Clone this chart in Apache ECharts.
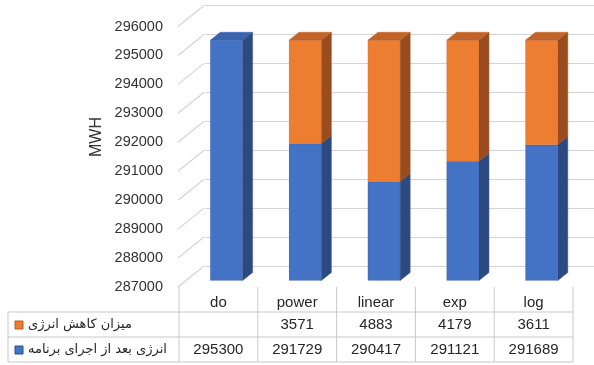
<!DOCTYPE html>
<html>
<head>
<meta charset="utf-8">
<script src="https://cdn.jsdelivr.net/npm/echarts@6/dist/echarts.min.js"></script>
<style>
  html, body { margin: 0; padding: 0; background: #fff; }
  #chart { width: 594px; height: 365px; }
</style>
</head>
<body>
<div id="chart"></div>
<script>
// Energy after the program vs. energy saved, per fitted model
const categories = ['do', 'power', 'linear', 'exp', 'log'];
const energyAfter = [295300, 291729, 290417, 291121, 291689];
const energySaved = [null, 3571, 4883, 4179, 3611];
const seriesNames = ['میزان کاهش انرژی', 'انرژی بعد از اجرای برنامه'];
const yTicks = [287000, 288000, 289000, 290000, 291000, 292000, 293000, 294000, 295000, 296000];
const yUnit = 'MWH';

const Y_MIN = yTicks[0];
const Y_MAX = yTicks[yTicks.length - 1];
const Y_STEP = yTicks[1] - yTicks[0];

// depth of the back wall and of the bars (pseudo-3D)
const WALL_DX = 26, WALL_DY = -21;
const BAR_OX = 8, BAR_OY = -6.5;
const BAR_DX = 10, BAR_DY = -8;

const FONT = 'Liberation Sans, Arial, sans-serif';
const TXT = '#262626';
const BORDER = '#c8c8c8';

const BLUE = { front: '#4472c4', side: '#2c4a82', top: '#3a62ad' };
const ORANGE = { front: '#ed7d31', side: '#9a4c1e', top: '#c0642a' };

// table rows (pixel rows under the plot)
const ROW_HEAD = 303, ROW_1 = 325, ROW_2 = 350;
const LINE_TOP = 287, LINE_1 = 312, LINE_2 = 337, LINE_3 = 362;
const TABLE_LEFT = 8;

const chart = echarts.init(document.getElementById('chart'), null, { renderer: 'canvas' });

function renderBars(params, api) {
  const i = api.value(0);
  const blue = api.value(1);
  const saved = api.value(2);
  const bw = api.size([1, 0])[0];
  const fw = bw * 0.41;
  const cx = api.coord([i, Y_MIN])[0] + BAR_OX;
  const x0 = cx - fw / 2, x1 = cx + fw / 2;
  const yOf = v => api.coord([i, v])[1] + BAR_OY;
  const segs = [[Y_MIN, blue, BLUE]];
  if (!isNaN(saved) && saved != null) segs.push([blue, blue + saved, ORANGE]);
  const children = [];
  segs.forEach((s, k) => {
    const yb = yOf(s[0]), yt = yOf(s[1]);
    const c = s[2];
    children.push({
      type: 'polygon',
      shape: { points: [[x1, yb], [x1 + BAR_DX, yb + BAR_DY], [x1 + BAR_DX, yt + BAR_DY], [x1, yt]] },
      style: { fill: c.side, stroke: c.side, lineWidth: 0.5 }
    });
    children.push({
      type: 'rect',
      shape: { x: x0, y: yt, width: fw, height: yb - yt },
      style: { fill: c.front, stroke: 'rgba(0,0,0,0.12)', lineWidth: 0.6 }
    });
    if (k === segs.length - 1) {
      children.push({
        type: 'polygon',
        shape: { points: [[x0, yt], [x1, yt], [x1 + BAR_DX, yt + BAR_DY], [x0 + BAR_DX, yt + BAR_DY]] },
        style: { fill: c.top, stroke: c.top, lineWidth: 0.5 }
      });
    }
  });
  return { type: 'group', children };
}

function renderSideWall(params, api) {
  const left = params.coordSys.x;
  const y = api.coord([0, api.value(1)])[1];
  return {
    type: 'line',
    shape: { x1: left - 1, y1: y, x2: left - 1 + WALL_DX, y2: y + WALL_DY },
    style: { stroke: '#d4d4d4', lineWidth: 1.2 }
  };
}

function renderTable(params, api) {
  const i = api.value(0);
  const bw = api.size([1, 0])[0];
  const cx = api.coord([i, Y_MIN])[0];
  const l = cx - bw / 2, r = cx + bw / 2;
  const saved = energySaved[i];
  const font = '15px ' + FONT;
  const children = [
    { type: 'line', shape: { x1: r, y1: LINE_TOP, x2: r, y2: LINE_3 }, style: { stroke: BORDER, lineWidth: 1 } },
    { type: 'line', shape: { x1: l, y1: LINE_1, x2: r, y2: LINE_1 }, style: { stroke: BORDER, lineWidth: 1 } },
    { type: 'line', shape: { x1: l, y1: LINE_2, x2: r, y2: LINE_2 }, style: { stroke: BORDER, lineWidth: 1 } },
    { type: 'line', shape: { x1: l, y1: LINE_3, x2: r, y2: LINE_3 }, style: { stroke: BORDER, lineWidth: 1 } },
    { type: 'text', style: { x: cx, y: ROW_HEAD, text: categories[i], fill: TXT, font: font, align: 'center', verticalAlign: 'middle' } },
    { type: 'text', style: { x: cx, y: ROW_2, text: String(energyAfter[i]), fill: TXT, font: font, align: 'center', verticalAlign: 'middle' } }
  ];
  if (saved != null) {
    children.push({ type: 'text', style: { x: cx, y: ROW_1, text: String(saved), fill: TXT, font: font, align: 'center', verticalAlign: 'middle' } });
  }
  if (i === 0) {
    children.push({ type: 'line', shape: { x1: l, y1: LINE_TOP, x2: l, y2: LINE_3 }, style: { stroke: BORDER, lineWidth: 1 } });
  }
  return { type: 'group', children };
}

const option = {
  animation: false,
  backgroundColor: '#fff',
  grid: [
    { left: 179, right: 21, top: 26.5, bottom: 78 },   // front plane
    { left: 205, right: 0, top: 5.5, bottom: 99 }      // back wall
  ],
  xAxis: [
    { type: 'category', gridIndex: 0, data: categories, axisLine: { show: false }, axisTick: { show: false }, axisLabel: { show: false }, splitLine: { show: false } },
    { type: 'value', gridIndex: 1, min: 0, max: 1, show: false }
  ],
  yAxis: [
    {
      type: 'value', gridIndex: 0, min: Y_MIN, max: Y_MAX, interval: Y_STEP,
      axisLine: { show: false }, axisTick: { show: false }, splitLine: { show: false },
      axisLabel: { margin: 16, color: '#333333', fontSize: 14.5, fontFamily: FONT, formatter: v => String(v) }
    },
    {
      type: 'value', gridIndex: 1, min: Y_MIN, max: Y_MAX, interval: Y_STEP,
      axisLine: { show: false }, axisTick: { show: false }, axisLabel: { show: false },
      splitLine: { show: true, lineStyle: { color: '#d4d4d4', width: 1.2 } }
    }
  ],
  graphic: [
    { type: 'text', x: 97, y: 137, rotation: Math.PI / 2,
      style: { text: yUnit, fill: '#333333', font: '16px ' + FONT, align: 'center', verticalAlign: 'middle' } },
    { type: 'line', shape: { x1: TABLE_LEFT, y1: LINE_1, x2: 179, y2: LINE_1 }, style: { stroke: BORDER, lineWidth: 1 } },
    { type: 'line', shape: { x1: TABLE_LEFT, y1: LINE_2, x2: 179, y2: LINE_2 }, style: { stroke: BORDER, lineWidth: 1 } },
    { type: 'line', shape: { x1: TABLE_LEFT, y1: LINE_3, x2: 179, y2: LINE_3 }, style: { stroke: BORDER, lineWidth: 1 } },
    { type: 'line', shape: { x1: TABLE_LEFT, y1: LINE_1, x2: TABLE_LEFT, y2: LINE_3 }, style: { stroke: BORDER, lineWidth: 1 } },
    { type: 'rect', shape: { x: 15, y: ROW_1 - 4, width: 8, height: 8 }, style: { fill: ORANGE.front, stroke: '#b85a1c', lineWidth: 1 } },
    { type: 'rect', shape: { x: 15, y: ROW_2 - 4, width: 8, height: 8 }, style: { fill: BLUE.front, stroke: '#2c4a82', lineWidth: 1 } },
    { type: 'text', x: 28, y: ROW_1, style: { text: seriesNames[0], fill: TXT, font: '13px DejaVu Sans, sans-serif', align: 'left', verticalAlign: 'middle' } },
    { type: 'text', x: 28, y: ROW_2, style: { text: seriesNames[1], fill: TXT, font: '13px DejaVu Sans, sans-serif', align: 'left', verticalAlign: 'middle' } }
  ],
  series: [
    {
      type: 'custom', name: 'wall', xAxisIndex: 0, yAxisIndex: 0, clip: false, silent: true,
      renderItem: renderSideWall,
      data: yTicks.map(v => [0, v])
    },
    {
      type: 'custom', name: 'bars', xAxisIndex: 0, yAxisIndex: 0, clip: false,
      renderItem: renderBars,
      data: categories.map((c, i) => [i, energyAfter[i], energySaved[i] == null ? NaN : energySaved[i]])
    },
    {
      type: 'custom', name: 'table', xAxisIndex: 0, yAxisIndex: 0, clip: false, silent: true,
      renderItem: renderTable,
      data: categories.map((c, i) => [i, Y_MIN])
    }
  ]
};

chart.setOption(option);
</script>
</body>
</html>
